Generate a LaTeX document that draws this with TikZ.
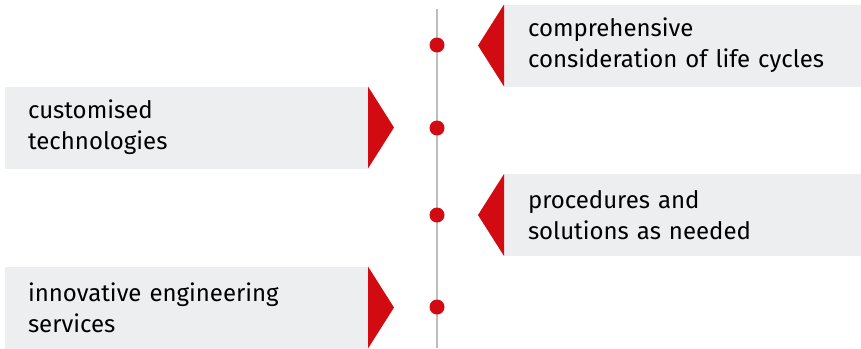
\documentclass[tikz,border=0pt]{standalone}
\usepackage{fontspec}
\setmainfont{Fira Sans}
\usetikzlibrary{calc}
\usetikzlibrary{positioning}
\definecolor{brandred}{HTML}{D20A11}
\definecolor{boxgrey}{HTML}{EDEEF0}
\definecolor{axisgrey}{HTML}{BDBDBD}

\begin{document}
\begin{tikzpicture}[x=1pt,y=-1pt,
  box/.style={fill=boxgrey, minimum height=82pt, inner ysep=0pt, outer sep=0pt,
    align=left, font=\fontsize{24}{31}\selectfont},
  leftbox/.style={box, anchor=west, minimum width=363pt, text width=317pt, inner xsep=23pt},
  rightbox/.style={box, anchor=west, minimum width=357pt, text width=309pt, inner xsep=24pt},
  dot/.style={circle, fill=brandred, minimum size=15pt, inner sep=0pt}]
  \useasboundingbox (0,0) rectangle (861,348);

  % time axis
  \coordinate (top) at (437,9);
  \coordinate (bottom) at (437,348);
  \draw [axisgrey, line width=2pt] (top) -- (bottom);

  \node [dot] (d1) at (437,45) {};
  \node [dot] (d2) at (437,128) {};
  \node [dot] (d3) at (437,215) {};
  \node [dot] (d4) at (437,307) {};

  \node [rightbox] (lifecycle) at (504,45.5) {comprehensive\\consideration of life cycles};
  \node [leftbox] (custom) at (5,127.5) {customised\\technologies};
  \node [rightbox] (procedures) at (504,215) {procedures and\\solutions as needed};
  \node [leftbox] (engineering) at (5,307.5) {innovative engineering\\services};

  % pointers
  \fill [brandred] (lifecycle.north west) -- ($(lifecycle.west)+(-26,0)$) -- (lifecycle.south west) -- cycle;
  \fill [brandred] (procedures.north west) -- ($(procedures.west)+(-26,0)$) -- (procedures.south west) -- cycle;
  \fill [brandred] (custom.north east) -- ($(custom.east)+(26,0)$) -- (custom.south east) -- cycle;
  \fill [brandred] (engineering.north east) -- ($(engineering.east)+(26,0)$) -- (engineering.south east) -- cycle;
\end{tikzpicture}
\end{document}
